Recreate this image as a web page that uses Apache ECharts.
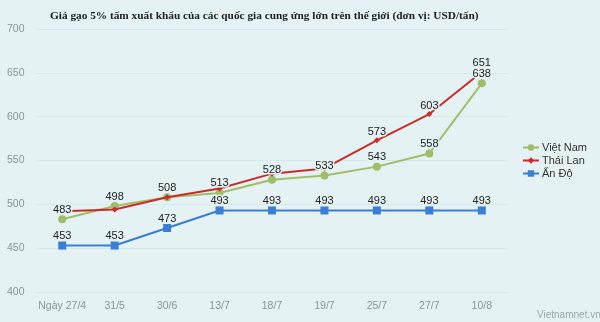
<!DOCTYPE html>
<html><head><meta charset="utf-8">
<script src="https://cdn.jsdelivr.net/npm/echarts@6/dist/echarts.min.js"></script>
<style>html,body{margin:0;padding:0;background:#e4f2f3;}#c{width:600px;height:322px;}</style>
</head><body><div id="c"></div>
<script>
var categories = ['Ngày 27/4','31/5','30/6','13/7','18/7','19/7','25/7','27/7','10/8'];
var vietnam = [483,498,508,513,528,533,543,558,638];
var thailand = [492,494,508,518,535,541,573,603,651];
var india = [453,453,473,493,493,493,493,493,493];
var thaiLabelShown = [false,false,false,false,false,false,true,true,true];
var yTicks = [400,450,500,550,600,650,700];

var chart = echarts.init(document.getElementById('c'));
var lbl = {show:true, position:'top', color:'#222', fontSize:11, fontFamily:'Liberation Sans', distance:0,
  textBorderColor:'#e4f2f3', textBorderWidth:3, opacity:1};
function labelSeries(name, data, size){
  return {name:name+' lbl', type:'scatter', data:data, symbol:'rect', symbolSize:size, silent:true,
    itemStyle:{color:'rgba(0,0,0,0)'}, label:lbl, z:10, legendHoverLink:false, tooltip:{show:false}};
}
chart.setOption({
  backgroundColor:'#e4f2f3',
  animation:false,
  title:{text:'Giá gạo 5% tấm xuất khẩu của các quốc gia cung ứng lớn trên thế giới (đơn vị: USD/tấn)',
    left:45, top:6,
    textStyle:{fontFamily:'Liberation Serif', fontWeight:'bold', fontSize:11.3, color:'#222'}},
  legend:{orient:'vertical', left:517, top:137, itemGap:2, itemWidth:16, itemHeight:8,
    textStyle:{fontFamily:'Liberation Sans', fontSize:11, color:'#333', padding:[0,0,0,-2]},
    data:['Việt Nam','Thái Lan','Ấn Độ']},
  grid:{left:36, right:92, top:29, bottom:30},
  xAxis:{type:'category', data:categories, boundaryGap:true,
    axisLine:{lineStyle:{color:'#d6e8ea'}}, axisTick:{show:false},
    axisLabel:{interval:0, color:'#8a9597', fontSize:10.5, fontFamily:'Liberation Sans', margin:9}},
  yAxis:{type:'value', min:yTicks[0], max:yTicks[yTicks.length-1], interval:50,
    axisLine:{show:false}, axisTick:{show:false},
    splitLine:{lineStyle:{color:'#d6e8ea'}},
    axisLabel:{color:'#8a9597', fontSize:10.5, fontFamily:'Liberation Sans', align:'left', margin:29}},
  series:[
    {name:'Việt Nam', type:'line', data:vietnam, symbol:'circle', symbolSize:8,
      itemStyle:{color:'#a2bd6a'}, lineStyle:{width:2, color:'#a2bd6a'}, z:2},
    {name:'Thái Lan', type:'line', symbol:'diamond', symbolSize:6, data:thailand,
      itemStyle:{color:'#cc2b2b'}, lineStyle:{width:2, color:'#cc2b2b'}, z:3},
    {name:'Ấn Độ', type:'line', data:india, symbol:'rect', symbolSize:8,
      itemStyle:{color:'#3a7fd5'}, lineStyle:{width:2, color:'#3a7fd5'}, z:4},
    labelSeries('vn', vietnam.map(function(v,i){return [i,v];}), 8),
    labelSeries('th', thailand.map(function(v,i){return [i,v];}).filter(function(d,i){return thaiLabelShown[i];}), 6),
    labelSeries('in', india.map(function(v,i){return [i,v];}), 8)
  ],
  graphic:[{type:'text', left:537, top:310, style:{text:'Vietnamnet.vn', fill:'#9aa', fontSize:10, fontFamily:'Liberation Sans'}}]
});
</script></body></html>
